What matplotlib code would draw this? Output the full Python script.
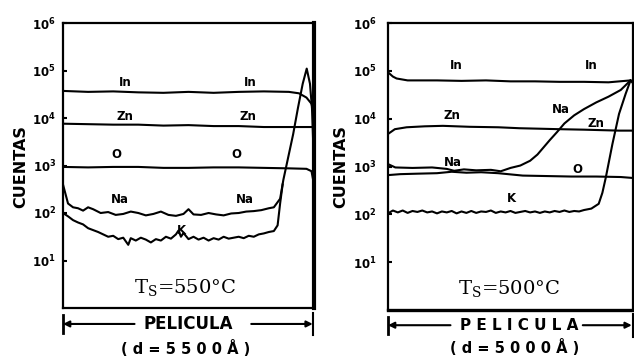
import numpy as np
import matplotlib
matplotlib.use("Agg")
import matplotlib.pyplot as plt

# depth profiles (SIMS counts, log10) along the film, x = fraction of thickness
# ---- film grown at 550 C (d = 5500 A)
x_in_550 = [0, 0.1, 0.2, 0.3, 0.4, 0.5, 0.6, 0.7, 0.8, 0.9, 0.94, 0.97, 0.99, 1.0]
in_550 = [4.57, 4.55, 4.56, 4.54, 4.53, 4.55, 4.53, 4.55, 4.56, 4.55, 4.52, 4.43, 4.3, 4.1]

x_zn_550 = [0, 0.1, 0.2, 0.3, 0.4, 0.5, 0.6, 0.7, 0.8, 0.9, 1.0]
zn_550 = [3.88, 3.87, 3.86, 3.86, 3.84, 3.85, 3.83, 3.83, 3.81, 3.81, 3.81]

x_o_550 = [0, 0.1, 0.2, 0.3, 0.4, 0.5, 0.6, 0.7, 0.8, 0.9, 0.97, 0.99, 1.0]
o_550 = [2.97, 2.96, 2.97, 2.97, 2.95, 2.95, 2.96, 2.96, 2.95, 2.94, 2.93, 2.88, 2.6]

x_na_550 = [0, 0.02, 0.04, 0.06, 0.08, 0.10, 0.12, 0.15, 0.18, 0.21, 0.24, 0.27,
            0.30, 0.33, 0.36, 0.39, 0.42, 0.45, 0.48, 0.50, 0.52, 0.55, 0.58,
            0.61, 0.64, 0.67, 0.70, 0.73, 0.76, 0.79, 0.82, 0.84, 0.865, 0.878,
            0.891, 0.917, 0.936, 0.955, 0.971, 0.984, 0.992, 1.0]
na_550 = [2.6, 2.2, 2.12, 2.1, 2.05, 2.12, 2.08, 2.0, 2.02, 1.96, 1.98, 2.03,
          2.0, 1.95, 1.98, 2.03, 1.96, 1.94, 1.98, 2.08, 1.97, 1.96, 2.0,
          1.97, 1.95, 1.99, 2.0, 2.03, 2.04, 2.06, 2.1, 2.12, 2.3, 2.7,
          3.02, 3.66, 4.21, 4.72, 5.04, 4.72, 4.2, 3.0]

x_k_550 = [0, 0.02, 0.04, 0.06, 0.08, 0.10, 0.12, 0.14, 0.16, 0.18, 0.20, 0.22,
           0.24, 0.26, 0.27, 0.29, 0.31, 0.33, 0.35, 0.37, 0.39, 0.41, 0.43,
           0.45, 0.46, 0.47, 0.48, 0.50, 0.52, 0.54, 0.56, 0.58, 0.60, 0.62,
           0.64, 0.66, 0.68, 0.70, 0.72, 0.74, 0.76, 0.78, 0.80, 0.82, 0.84,
           0.855, 0.865, 0.875]
k_550 = [2.0, 1.93, 1.85, 1.8, 1.76, 1.68, 1.64, 1.6, 1.55, 1.5, 1.52, 1.45,
         1.48, 1.33, 1.47, 1.42, 1.48, 1.44, 1.38, 1.45, 1.42, 1.5, 1.46,
         1.55, 1.63, 1.5, 1.58, 1.45, 1.5, 1.44, 1.48, 1.42, 1.47, 1.44,
         1.5, 1.46, 1.48, 1.5, 1.47, 1.52, 1.5, 1.55, 1.57, 1.6, 1.62,
         1.74, 2.2, 2.6]

# ---- film grown at 500 C (d = 5000 A)
x_in_500 = [0, 0.02, 0.035, 0.08, 0.2, 0.3, 0.4, 0.5, 0.6, 0.7, 0.8, 0.9, 0.99, 1.0]
in_500 = [4.97, 4.88, 4.84, 4.8, 4.8, 4.79, 4.8, 4.78, 4.78, 4.77, 4.77, 4.76, 4.8, 4.74]

x_zn_500 = [0, 0.028, 0.076, 0.15, 0.224, 0.333, 0.45, 0.537, 0.62, 0.699, 0.8, 0.943, 1.0]
zn_500 = [3.68, 3.78, 3.82, 3.84, 3.85, 3.83, 3.82, 3.8, 3.79, 3.78, 3.77, 3.75, 3.75]

x_o_500 = [0, 0.05, 0.12, 0.2, 0.26, 0.32, 0.38, 0.45, 0.55, 0.65, 0.75, 0.85, 0.95, 1.0]
o_500 = [2.82, 2.84, 2.85, 2.86, 2.89, 2.87, 2.88, 2.86, 2.81, 2.8, 2.79, 2.79, 2.78, 2.76]

x_na_500 = [0, 0.03, 0.1, 0.18, 0.24, 0.27, 0.31, 0.36, 0.42, 0.46, 0.5, 0.54,
            0.58, 0.61, 0.635, 0.66, 0.69, 0.72, 0.76, 0.8, 0.85, 0.9, 0.95, 0.99]
na_500 = [3.05, 2.98, 2.97, 2.98, 2.95, 2.91, 2.94, 2.92, 2.93, 2.9, 2.97, 3.02,
          3.12, 3.25, 3.4, 3.55, 3.72, 3.9, 4.07, 4.2, 4.34, 4.46, 4.6, 4.8]

x_k_500 = [0, 0.02, 0.04, 0.06, 0.08, 0.10, 0.12, 0.14, 0.16, 0.18, 0.20, 0.22,
           0.24, 0.26, 0.28, 0.30, 0.32, 0.34, 0.36, 0.38, 0.40, 0.42, 0.44,
           0.46, 0.48, 0.50, 0.52, 0.54, 0.56, 0.58, 0.60, 0.62, 0.64, 0.66,
           0.68, 0.70, 0.72, 0.74, 0.76, 0.78, 0.80, 0.83, 0.86, 0.875, 0.889,
           0.916, 0.943, 0.97, 0.99]
k_500 = [2.02, 2.08, 2.04, 2.08, 2.03, 2.07, 2.05, 2.08, 2.04, 2.06, 2.02, 2.06,
         2.04, 2.07, 2.02, 2.06, 2.03, 2.07, 2.03, 2.06, 2.05, 2.08, 2.03,
         2.06, 2.04, 2.07, 2.03, 2.05, 2.07, 2.04, 2.06, 2.03, 2.06, 2.04,
         2.07, 2.05, 2.08, 2.05, 2.07, 2.06, 2.09, 2.12, 2.22, 2.45, 2.77,
         3.47, 4.1, 4.52, 4.8]

decades = [1, 2, 3, 4, 5, 6]
tick_labels = [r"$\mathbf{10^{%d}}$" % d for d in decades]

# species labels: (text, x, log10 y)
labels_550 = [("In", 0.247, 4.75), ("In", 0.745, 4.75),
              ("Zn", 0.247, 4.04), ("Zn", 0.737, 4.04),
              ("O", 0.214, 3.23), ("O", 0.692, 3.23),
              ("Na", 0.227, 2.28), ("Na", 0.725, 2.28),
              ("K", 0.473, 1.64)]
labels_500 = [("In", 0.279, 5.12), ("In", 0.828, 5.12),
              ("Zn", 0.259, 4.06), ("Zn", 0.848, 3.89),
              ("Na", 0.706, 4.2), ("Na", 0.266, 3.08),
              ("O", 0.774, 2.94), ("K", 0.503, 2.34)]

LW = 1.5
W, H = 634, 362

fig = plt.figure(figsize=(W / 100, H / 100), dpi=100)
axL = fig.add_axes([63 / W, 1 - 308 / H, 251 / W, 285 / H])
axR = fig.add_axes([388 / W, 1 - 310 / H, 245 / W, 287 / H])


def setup(ax, pad):
    ax.set_yscale("log")
    ax.set_ylim(1, 1e6)
    ax.set_xlim(0, 1)
    ax.set_xticks([])
    ax.set_yticks([10.0 ** d for d in decades])
    ax.set_yticklabels(tick_labels)
    ax.minorticks_off()
    ax.tick_params(axis="y", direction="in", length=3, width=1.5, pad=pad, labelsize=8.5)
    for s in ax.spines.values():
        s.set_linewidth(1.6)


def curve(ax, x, ly):
    ax.plot(x, 10.0 ** np.array(ly), color="k", lw=LW, solid_joinstyle="round")


setup(axL, 5)
setup(axR, 8)
axL.spines["right"].set_linewidth(3.0)
axR.spines["bottom"].set_linewidth(2.4)

for x, ly in [(x_in_550, in_550), (x_zn_550, zn_550), (x_o_550, o_550),
              (x_na_550, na_550), (x_k_550, k_550)]:
    curve(axL, x, ly)
for x, ly in [(x_in_500, in_500), (x_zn_500, zn_500), (x_o_500, o_500),
              (x_na_500, na_500), (x_k_500, k_500)]:
    curve(axR, x, ly)

for ax, labs in [(axL, labels_550), (axR, labels_500)]:
    for txt, x, ly in labs:
        ax.text(x, 10.0 ** ly, txt, fontsize=8.5, fontweight="bold",
                ha="center", va="center")

# substrate temperature
ts_kw = dict(family="DejaVu Serif", math_fontfamily="dejavuserif", fontsize=14,
             ha="center", va="baseline")
axL.text(0.486, 10 ** 0.31, r"T$_\mathrm{S}$=550°C", **ts_kw)
axR.text(0.494, 10 ** 0.34, r"T$_\mathrm{S}$=500°C", **ts_kw)


def film_arrow(ax, y, x_gap0, x_gap1, x_txt, word, wsize, dtxt, y_d, x_d):
    tr = ax.transAxes
    kw = dict(xycoords="axes fraction", textcoords="axes fraction",
              arrowprops=dict(arrowstyle="-|>", lw=1.5, color="k",
                              mutation_scale=9, shrinkA=0, shrinkB=0))
    ax.annotate("", xy=(0.0, y), xytext=(x_gap0, y), **kw)
    ax.annotate("", xy=(0.995, y), xytext=(x_gap1, y), **kw)
    ax.plot([0, 0], [y - 0.03, y + 0.03], color="k", lw=2, transform=tr, clip_on=False)
    ax.plot([0.998, 0.998], [y - 0.04, y + 0.04], color="k", lw=1.5,
            transform=tr, clip_on=False)
    ax.text(x_txt, y, word, transform=tr, fontsize=wsize, fontweight="bold",
            ha="center", va="center")
    ax.text(x_d, y_d, dtxt, transform=tr, fontsize=10.5, fontweight="bold",
            ha="center", va="center")


film_arrow(axL, -0.056, 0.285, 0.75, 0.5, "PELICULA", 12,
           "( d = 5 5 0 0 Å )", -0.142, 0.488)
film_arrow(axR, -0.053, 0.255, 0.795, 0.535, "P E L I C U L A", 11,
           "( d = 5 0 0 0 Å )", -0.13, 0.518)

for xc in (21, 341):
    fig.text(xc / W, 1 - 167 / H, "CUENTAS", rotation=90, fontsize=11.5,
             fontweight="bold", ha="center", va="center")

fig.savefig("out.png", dpi=100)
